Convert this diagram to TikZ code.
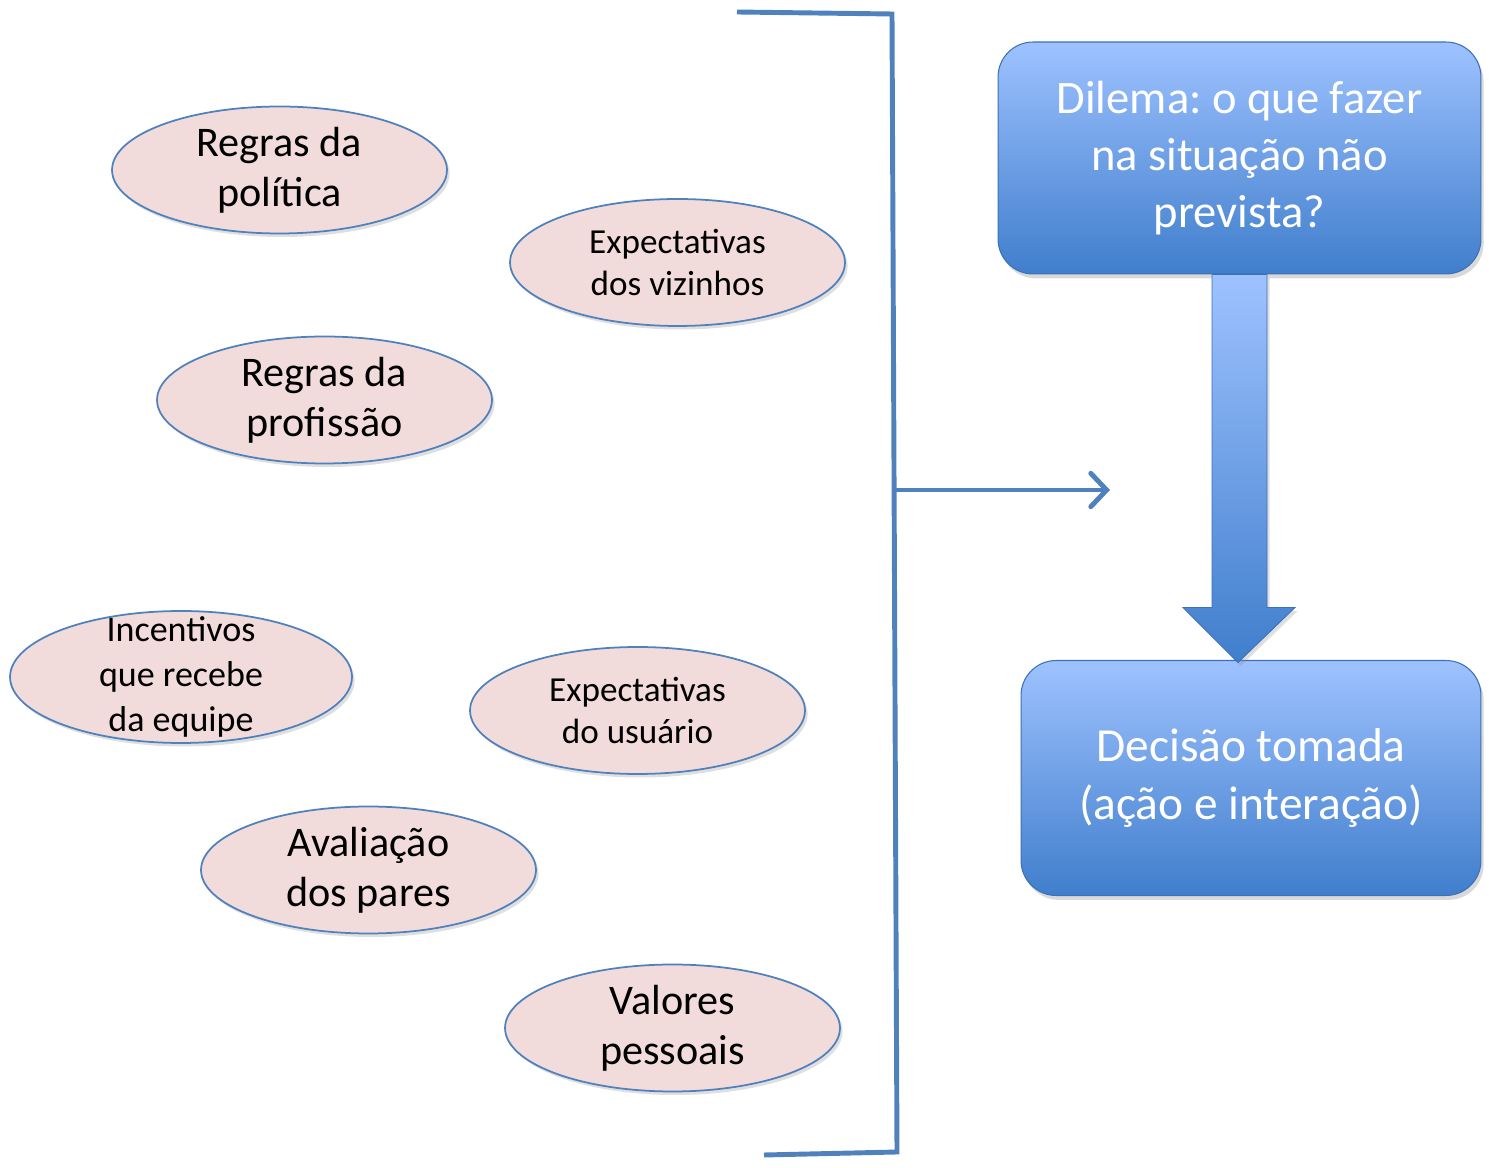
\documentclass[tikz,border=0pt]{standalone}
\usepackage{fontspec}
\setmainfont{Carlito}
\frenchspacing
\usetikzlibrary{shapes.geometric,arrows.meta,calc,shadows}
\definecolor{linhaazul}{RGB}{79,129,189}
\definecolor{rosa}{RGB}{242,220,219}
\definecolor{azulclaro}{RGB}{158,194,255}
\definecolor{azulescuro}{RGB}{64,126,204}
\begin{document}
\begin{tikzpicture}[x=0.02cm,y=-0.02cm]
                        \tikzstyle{fator}=[ellipse,draw=linhaazul,line width=1pt,fill=rosa,
                            minimum width=6.7cm,minimum height=2.54cm,inner sep=0pt,align=center,
                            drop shadow={opacity=0.25,shadow xshift=1.5pt,shadow yshift=-2pt}]
                        \tikzstyle{caixa}=[rectangle,rounded corners=0.7cm,draw=azulescuro!90!black,
                            line width=0.6pt,top color=azulclaro,bottom color=azulescuro,
                            text=white,align=center,inner sep=0pt,
                            drop shadow={opacity=0.3,shadow xshift=1.5pt,shadow yshift=-2.5pt}]
                        \tikzstyle{linha}=[draw=linhaazul,line width=2.8pt]
                        \useasboundingbox (0,0) rectangle (1489,1168);
                        % fatores
                        \node[fator,font=\fontsize{24}{28.3}\selectfont] (politica) at (279.5,170) {Regras da\\pol\'{\i}tica};
                        \node[fator,font=\fontsize{20}{24.4}\selectfont] (vizinhos) at (677.5,262.5) {Expectativas\\dos vizinhos};
                        \node[fator,font=\fontsize{24}{28.3}\selectfont] (profissao) at (324.5,400) {Regras da\\profiss\~ao};
                        \node[fator,minimum width=6.84cm,minimum height=2.64cm,inner ysep=-14pt,font=\fontsize{20.5}{25.5}\selectfont] (incentivos) at (181,677) {Incentivos\\que recebe\\da equipe};
                        \node[fator,font=\fontsize{20}{24.4}\selectfont] (usuario) at (637.5,710.5) {Expectativas\\do usu\'ario};
                        \node[fator,font=\fontsize{24}{28.3}\selectfont] (pares) at (368.5,870) {Avalia\c{c}\~ao\\dos pares};
                        \node[fator,font=\fontsize{24}{28.3}\selectfont] (valores) at (672.5,1028) {Valores\\pessoais};
                        % caixas
                        \node[caixa,minimum width=9.66cm,minimum height=4.64cm,font=\fontsize{26.5}{32.3}\selectfont] (dilema) at (1239.5,158) {Dilema: o que fazer\\na situa\c{c}\~ao n\~ao\\prevista?};
                        \node[caixa,minimum width=9.2cm,minimum height=4.7cm,font=\fontsize{27}{33}\selectfont] (decisao) at (1251,778) {Decis\~ao tomada\\(a\c{c}\~ao e intera\c{c}\~ao)};
                        % seta larga
                        \path[top color=azulclaro,bottom color=azulescuro,draw=azulescuro!90!black,line width=0.5pt,
                            drop shadow={opacity=0.25,shadow xshift=1.5pt,shadow yshift=-2pt}]
                            ($(dilema.south)+(-27.5,0)$) -- ($(dilema.south)+(27.5,0)$)
                            -- ($(dilema.south)+(27.5,333)$) -- ($(dilema.south)+(55.5,333)$)
                            -- ($(dilema.south)+(-1.5,388)$) -- ($(dilema.south)+(-56.5,333)$)
                            -- ($(dilema.south)+(-27.5,333)$) -- cycle;
                        % chave
                        \coordinate (chavetopo) at (737,12);
                        \coordinate (chavecanto) at (892,14);
                        \coordinate (chavebase) at (897,1152);
                        \coordinate (chavefim) at (764,1155);
                        \coordinate (saida) at (894.8,490);
                        \coordinate (alvo) at (1110,490);
                        \draw[linha] (chavetopo) -- (chavecanto) -- (chavebase) -- (chavefim);
                        \draw[linha,-{Straight Barb[length=9pt,width=19pt,line cap=round]}] (saida) -- (alvo);
                    \end{tikzpicture}
\end{document}
